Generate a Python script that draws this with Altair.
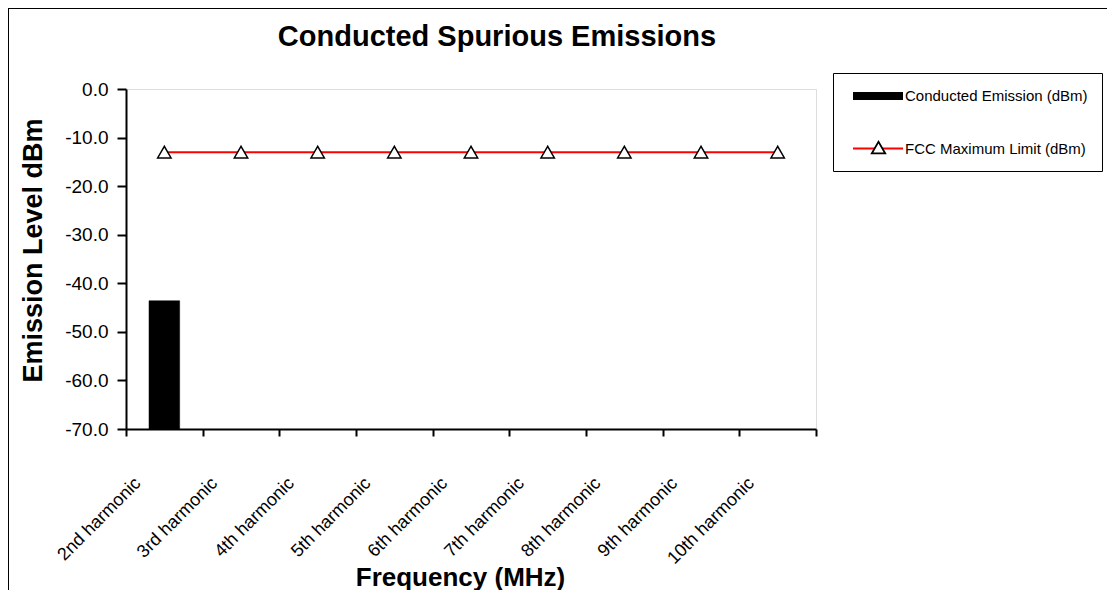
import altair as alt
import pandas as pd

categories = ["2nd harmonic", "3rd harmonic", "4th harmonic", "5th harmonic",
              "6th harmonic", "7th harmonic", "8th harmonic", "9th harmonic",
              "10th harmonic"]
emission_dbm = [-43.6, None, None, None, None, None, None, None, None]
fcc_limit_dbm = [-13.0, -13.0, -13.0, -13.0, -13.0, -13.0, -13.0, -13.0, -13.0]
series_names = ["Conducted Emission (dBm)", "FCC Maximum Limit (dBm)"]
y_ticks = [0, -10, -20, -30, -40, -50, -60, -70]

FCC = series_names[1]
bar_df = pd.DataFrame({"harmonic": categories, "value": emission_dbm,
                       "series": series_names[0], "ring": FCC}).dropna()
lim_df = pd.DataFrame({"harmonic": categories, "value": fcc_limit_dbm,
                       "series": FCC, "marker": FCC})

FONT = "Liberation Sans"
TRI_RING = ("M0,-1.134L1.232,1L-1.232,1Z"
            "M0,-0.598L-0.768,0.732L0.768,0.732Z")

x_enc = alt.X(
    "harmonic:N", sort=categories,
    scale=alt.Scale(domain=categories, paddingInner=0, paddingOuter=0),
    axis=alt.Axis(
        title="Frequency (MHz)", titleFont=FONT, titleFontSize=26,
        titleFontWeight="bold", titleColor="black", titleX=334, titleY=156,
        titleAlign="center", titleBaseline="alphabetic",
        labelAngle=-45, labelAlign="right", labelBaseline="top",
        labelFont=FONT, labelFontSize=18, labelColor="black",
        labelPadding=38, labelOffset=-33,
        tickBand="extent", tickSize=7, tickWidth=2, tickColor="black",
        domainColor="black", domainWidth=2, grid=False,
    ),
)
y_enc = alt.Y(
    "value:Q",
    scale=alt.Scale(domain=[-70, 0], nice=False, zero=False),
    axis=alt.Axis(
        values=y_ticks,
        labelExpr="(datum.value < 0 ? '-' : '') + format(abs(datum.value), '.1f')",
        title="Emission Level dBm", titleFont=FONT, titleFontSize=27,
        titleFontWeight="bold", titleColor="black", titleAngle=-90,
        titleX=-85, titleY=161, titleAlign="center", titleBaseline="alphabetic",
        labelFont=FONT, labelFontSize=19, labelColor="black", labelPadding=9,
        tickSize=9, tickWidth=2, tickColor="black",
        domainColor="black", domainWidth=2, grid=False,
    ),
)

stroke_scale = alt.Scale(domain=series_names, range=["black", "red"])
width_scale = alt.Scale(domain=series_names, range=[8, 2])
legend_main = alt.Legend(
    title=None, orient="none", legendX=707, legendY=-16, direction="vertical",
    padding=14, rowPadding=29, strokeColor="black",
    labelFont=FONT, labelFontSize=15, labelColor="black", labelOffset=18,
    labelLimit=400, symbolOffset=22, symbolSize=100,
    symbolType="M-5,0L5,0", symbolOpacity=1,
)
tri_pos = dict(title=None, orient="none", legendX=745, legendY=51, padding=0,
               labelExpr="''", labelFontSize=1, symbolSize=180, symbolOpacity=1)

line = alt.Chart(lim_df).mark_line().encode(
    x=x_enc, y=y_enc,
    stroke=alt.Stroke("series:N", scale=stroke_scale, legend=legend_main),
    strokeWidth=alt.StrokeWidth("series:N", scale=width_scale, legend=legend_main),
)
bars = alt.Chart(bar_df).mark_bar(width=alt.RelativeBandSize(0.4), fill="black",
                                  strokeWidth=0.5).encode(
    x=x_enc, y=y_enc, y2=alt.datum(-70),
    stroke=alt.Stroke("series:N", scale=stroke_scale, legend=legend_main),
    opacity=alt.Opacity("ring:N", scale=alt.Scale(domain=[FCC], range=[1]),
                        legend=alt.Legend(symbolType=TRI_RING, zindex=7, **tri_pos)),
)
points = alt.Chart(lim_df).mark_point(
    filled=True, fill="white", stroke="black", strokeWidth=1.5, size=180, opacity=1
).encode(
    x=x_enc, y=y_enc,
    shape=alt.Shape("marker:N",
                    scale=alt.Scale(domain=[FCC], range=["triangle-up"]),
                    legend=alt.Legend(symbolType="triangle-up", symbolFillColor="white",
                                      symbolStrokeColor="black", symbolStrokeWidth=1.5,
                                      zindex=6, **tri_pos)),
)
frame = alt.Chart(bar_df).mark_rect(fill="transparent", stroke="black", strokeWidth=2).encode(
    x=alt.value(-118), y=alt.value(-81), x2=alt.value(3000), y2=alt.value(3000)
)

chart = alt.layer(frame, line, bars, points).properties(
    width=690, height=340,
    title=alt.TitleParams("Conducted Spurious Emissions", font=FONT, fontSize=29,
                          fontWeight="bold", color="black", anchor="middle",
                          frame="group", dx=26, offset=0, dy=68, baseline="alphabetic"),
    autosize=alt.AutoSizeParams(type="none"),
    padding={"left": 118, "top": 81, "right": 291, "bottom": 161},
).resolve_legend(shape="independent", opacity="independent").configure_view(
    stroke="#808080", strokeWidth=2
).configure(background="white")

chart.save("out.html", embed_options={"renderer": "svg", "actions": False})
